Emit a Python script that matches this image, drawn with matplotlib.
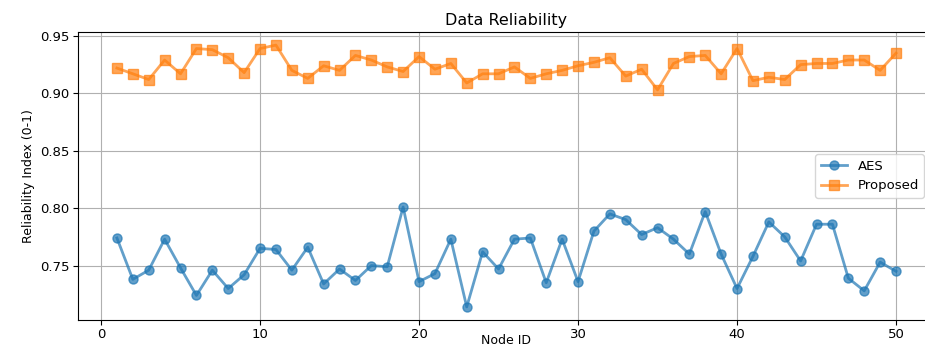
import matplotlib
matplotlib.use("Agg")
import matplotlib.pyplot as plt
import numpy as np

node_ids = list(range(1, 51))

aes = [0.774, 0.738, 0.746, 0.773, 0.748, 0.724, 0.746, 0.730, 0.742, 0.765,
       0.764, 0.746, 0.766, 0.734, 0.747, 0.737, 0.750, 0.749, 0.801, 0.736,
       0.743, 0.773, 0.714, 0.762, 0.747, 0.773, 0.774, 0.735, 0.773, 0.736,
       0.780, 0.795, 0.790, 0.777, 0.783, 0.773, 0.760, 0.797, 0.760, 0.730,
       0.758, 0.788, 0.775, 0.754, 0.786, 0.786, 0.739, 0.728, 0.753, 0.745]

proposed = [0.922, 0.917, 0.912, 0.929, 0.917, 0.939, 0.938, 0.931, 0.918, 0.939,
            0.942, 0.920, 0.913, 0.924, 0.920, 0.933, 0.929, 0.923, 0.919, 0.932,
            0.921, 0.926, 0.909, 0.917, 0.917, 0.923, 0.913, 0.917, 0.920, 0.924,
            0.927, 0.931, 0.915, 0.921, 0.903, 0.926, 0.932, 0.933, 0.917, 0.939,
            0.911, 0.914, 0.912, 0.925, 0.926, 0.926, 0.929, 0.929, 0.920, 0.935]

fig = plt.figure(figsize=(9.25, 3.49), dpi=100)
# axes runs a bit past the right edge, like the cropped original
ax = fig.add_axes([0.0843, 0.0831, 0.9265, 0.8252])

ax.plot(node_ids, aes, marker="o", color="tab:blue", alpha=0.7, lw=2, ms=6.5, label="AES")
ax.plot(node_ids, proposed, marker="s", color="tab:orange", alpha=0.7, lw=2, ms=6.5, label="Proposed")

ax.set_title("Data Reliability", fontsize=11.5, pad=5)
ax.set_xlabel("Node ID", fontsize=9, va="bottom")
ax.xaxis.set_label_coords(0.5, -0.094)  # squeeze it in above the figure edge
ax.set_ylabel("Reliability Index (0-1)", fontsize=9, family=["Liberation Sans Narrow", "DejaVu Sans"])
ax.set_yticks([0.75, 0.80, 0.85, 0.90, 0.95])
ax.tick_params(labelsize=9.5, pad=2.5)
ax.grid(True)
ax.legend(loc="center right", fontsize=9.5, bbox_to_anchor=(0.995, 0.5))

fig.savefig("out.png", dpi=100)
